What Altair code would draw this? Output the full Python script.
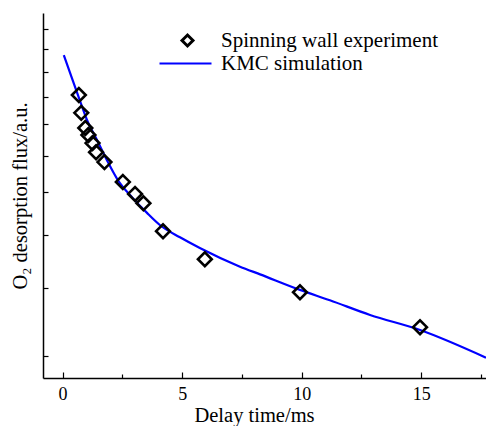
import altair as alt
import pandas as pd

# KMC simulation curve
sim_x = [0.05, 0.39, 0.72, 1.02, 1.44, 1.85, 2.31, 2.90, 3.53, 4.08, 4.91, 5.74,
         7.42, 8.26, 9.93, 11.18, 12.86, 14.95, 17.71]
sim_y = [10.73, 9.73, 8.86, 8.15, 7.49, 6.88, 6.32, 5.88, 5.50, 5.22, 4.96, 4.74,
         4.38, 4.24, 3.97, 3.80, 3.57, 3.35, 2.98]

# Spinning wall experiment points
exp_x = [0.68, 0.78, 0.95, 1.08, 1.25, 1.40, 1.75, 2.52, 3.03, 3.38, 4.20, 5.95, 9.93, 14.95]
exp_y = [9.06, 8.40, 7.88, 7.65, 7.39, 7.11, 6.82, 6.27, 5.96, 5.73, 5.09, 4.52, 3.93, 3.39]

x_major = [0, 5, 10, 15]
x_minor = [2.5, 7.5, 12.5, 17.5]
y_ticks = [3, 4, 5, 6, 7, 8, 9, 10, 11, 12]

sim = pd.DataFrame({"x": sim_x, "y": sim_y, "series": "KMC simulation"})
exp = pd.DataFrame({"x": exp_x, "y": exp_y, "series": "Spinning wall experiment"})

FONT = "Liberation Serif"
xs = alt.Scale(domain=[-0.82, 17.71], nice=False, zero=False)
ys = alt.Scale(type="log", domain=[2.734, 12.82], nice=False, zero=False)

line = alt.Chart(sim).mark_line(strokeWidth=2.2, clip=True, interpolate="monotone").encode(
    x=alt.X("x:Q", scale=xs, axis=alt.Axis(
        orient="bottom", values=x_major, ticks=False, grid=False, domain=True,
        domainColor="black", domainWidth=1.5, labelFont=FONT, labelFontSize=18,
        labelColor="black", labelBaseline="alphabetic", labelPadding=21,
        labelFlush=False, format="d",
        title="Delay time/ms", titleFont=FONT, titleFontSize=20.5,
        titleFontWeight="normal", titleColor="black",
        titleBaseline="alphabetic", titleX=211, titleY=43)),
    y=alt.Y("y:Q", scale=ys, axis=alt.Axis(
        orient="left", values=y_ticks, ticks=False, labels=False, grid=False,
        domain=True, domainColor="black", domainWidth=1.5,
        title="O₂ desorption flux/a.u.", titleFont=FONT, titleFontSize=20.5,
        titleFontWeight="normal", titleColor="black", titlePadding=13)),
    color=alt.Color("series:N", scale=alt.Scale(range=["#0000ff"]), legend=alt.Legend(
        orient="none", legendX=115, legendY=23, title=None, padding=0,
        symbolType="stroke", symbolSize=2704, symbolStrokeWidth=2.2,
        labelFont=FONT, labelFontSize=21, labelColor="black", labelOffset=8,
        labelLimit=300)),
)

points = alt.Chart(exp).mark_point(
    shape="diamond", filled=False, color="black", opacity=1, strokeWidth=2.6, size=190
).encode(
    x=alt.X("x:Q", scale=xs, axis=alt.Axis(
        orient="bottom", values=x_major, labels=False, domain=False, grid=False,
        title=None, tickSize=6, offset=-6, tickColor="black", tickWidth=1.2)),
    y=alt.Y("y:Q", scale=ys, axis=alt.Axis(
        orient="left", values=y_ticks, labels=False, domain=False, grid=False,
        title=None, tickSize=5, offset=-5, tickColor="black", tickWidth=1.2)),
    shape=alt.Shape("series:N", scale=alt.Scale(range=["diamond"]), legend=alt.Legend(
        orient="none", legendX=134, legendY=17, title=None, padding=0,
        symbolSize=120, symbolStrokeWidth=3, symbolStrokeColor="black",
        symbolOpacity=1,
        labelFont=FONT, labelFontSize=21, labelColor="black", labelOffset=23,
        labelLimit=300)),
)

minor = alt.Chart(sim).mark_line(strokeOpacity=0).encode(
    x=alt.X("x:Q", scale=xs, axis=alt.Axis(
        orient="bottom", values=x_minor, labels=False, domain=False, grid=False,
        title=None, tickSize=4, offset=-4, tickColor="black", tickWidth=1.2)),
    y=alt.Y("y:Q", scale=ys, axis=None),
)

chart = alt.layer(line, minor, points).resolve_axis(
    x="independent", y="independent"
).resolve_legend(color="independent", shape="independent").properties(
    width=443, height=365,
    autosize=alt.AutoSizeParams(type="none"),
    padding={"left": 43, "top": 13, "right": 0, "bottom": 48},
    background="white",
).configure_view(stroke=None)

chart.save("out.html", embed_options={"renderer": "svg", "actions": False})
